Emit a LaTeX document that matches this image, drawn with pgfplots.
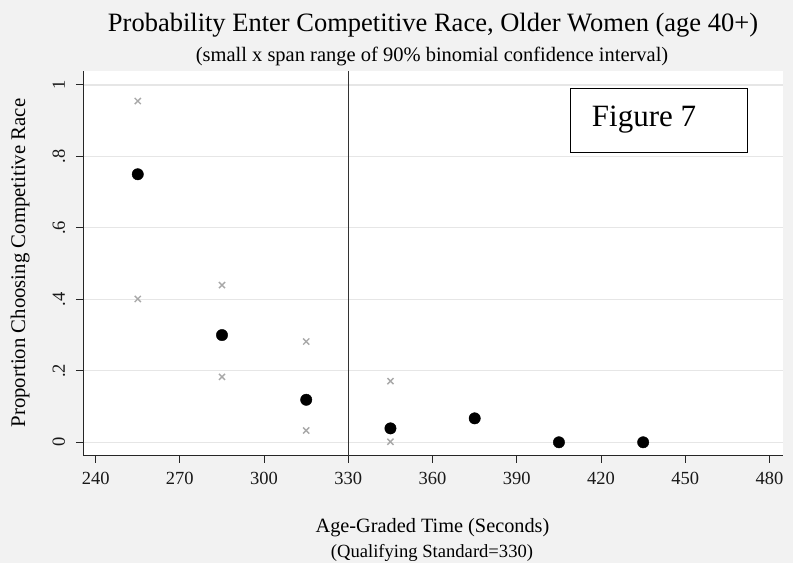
\documentclass[border=0pt]{standalone}
\usepackage{fontspec}
\setmainfont{Liberation Serif}
\usepackage{pgfplots}
\pgfplotsset{compat=1.18}
\definecolor{bggray}{HTML}{F2F2F2}
\definecolor{gridgray}{HTML}{E6E6E6}
\definecolor{cigray}{HTML}{A8A8A8}
\begin{document}
\begin{tikzpicture}
\fill[bggray] (0,0) rectangle (793bp,563bp);
\begin{axis}[
  at={(83bp,107.3bp)}, anchor=south west,
  scale only axis, width=700bp, height=384.7bp,
  xmin=235.5, xmax=484.8, ymin=-0.0375, ymax=1.039,
  axis x line*=bottom, axis y line*=left,
  axis line style={-, draw=black!85, line width=1bp},
  axis background/.style={fill=white},
  xtick={240,270,300,330,360,390,420,450,480},
  xticklabels={240,270,300,330,360,390,420,450,480},
  ytick={0,0.2,0.4,0.6,0.8,1},
  yticklabels={0,.2,.4,.6,.8,1},
  tick align=outside, major tick length=7bp,
  tick style={draw=black!85, line width=1bp},
  ymajorgrids, grid style={gridgray, line width=1.2bp},
  /pgf/number format/assume math mode=true,
  ticklabel style={font=\rmfamily\fontsize{18.5bp}{20bp}\selectfont, text=black!90},
  xticklabel style={anchor=base, yshift=-22bp},
  yticklabel style={rotate=90, anchor=base, yshift=11bp},
  clip=false,
]
\addplot[draw=black!80, line width=1.6bp, no marks] coordinates {(330,-0.0375) (330,1.039)};
\addplot[only marks, mark=x, mark size=4.3bp, cigray, line width=1.4bp] coordinates {
 (255,0.955) (255,0.401)
 (285,0.440) (285,0.183)
 (315,0.282) (315,0.033)
 (345,0.171) (345,0.0015)
};
\addplot[only marks, mark=*, mark size=5.7bp, black, fill=black] coordinates {
 (255,0.750) (285,0.300) (315,0.119) (345,0.039) (375,0.067) (405,0.0) (435,0.0)
};
\end{axis}
\draw[black, line width=1bp] (570.7bp,410.7bp) rectangle (747.3bp,474.7bp);
\node[anchor=base west, inner sep=0pt, font=\fontsize{31bp}{34bp}\selectfont] at (591.7bp,436.3bp) {Figure 7};
\node[anchor=base, inner sep=0pt, font=\fontsize{26.5bp}{30bp}\selectfont] at (433bp,531.3bp) {Probability Enter Competitive Race, Older Women (age 40+)};
\node[anchor=base, inner sep=0pt, font=\fontsize{20.5bp}{24bp}\selectfont] at (432bp,501bp) {(small x span range of 90\% binomial confidence interval)};
\node[anchor=base, inner sep=0pt, font=\fontsize{20.3bp}{24bp}\selectfont] at (432.5bp,31bp) {Age-Graded Time (Seconds)};
\node[anchor=base, inner sep=0pt, font=\fontsize{18.6bp}{22bp}\selectfont] at (432bp,5.7bp) {(Qualifying Standard=330)};
\node[anchor=base, rotate=90, inner sep=0pt, font=\fontsize{20.8bp}{24bp}\selectfont] at (25bp,300bp) {Proportion Choosing Competitive Race};
\pgfresetboundingbox
\useasboundingbox (0,0) rectangle (793bp,563bp);
\end{tikzpicture}
\end{document}
